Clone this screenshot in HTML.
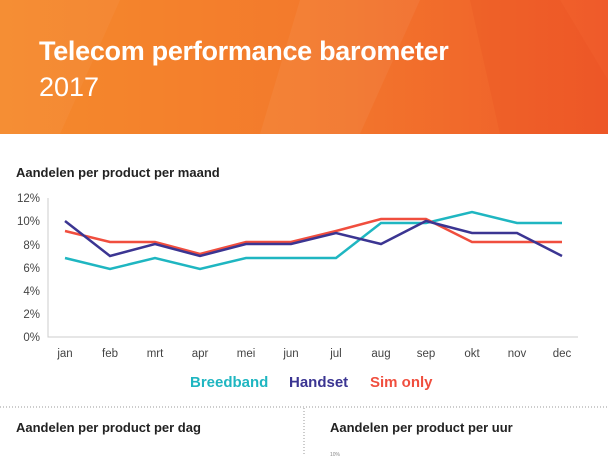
<!DOCTYPE html><html><head><style>
body{margin:0;width:608px;height:456px;overflow:hidden;background:#fff;font-family:"Liberation Sans",sans-serif}
.hd{position:absolute;left:0;top:0;width:608px;height:134px;background:linear-gradient(90deg,#f58a2c 0%,#f37a2c 50%,#ef5a2a 100%);overflow:hidden}
.hd h1{position:absolute;left:39px;top:36px;margin:0;color:#fff;font-size:27px;font-weight:bold;letter-spacing:-0.3px}
.hd h2{position:absolute;left:39px;top:72px;margin:0;color:#fff;font-size:27px;font-weight:normal}
.t{position:absolute;font-size:13px;font-weight:bold;color:#222}
</style></head><body>
<div class="hd"><svg width="608" height="134" style="position:absolute;left:0;top:0"><polygon points="300,0 420,0 360,134 260,134" fill="#fff" opacity="0.05"/><polygon points="470,0 560,0 608,80 608,134 500,134" fill="#e84a20" opacity="0.2"/><polygon points="0,0 120,0 60,134 0,134" fill="#fff" opacity="0.04"/></svg><h1>Telecom performance barometer</h1><h2>2017</h2></div>
<div class="t" style="left:16px;top:165px">Aandelen per product per maand</div>
<svg width="608" height="456" style="position:absolute;left:0;top:0" font-family="Liberation Sans" font-size="11.5" fill="#444">
<polyline points="48,198 48,337 578,337" fill="none" stroke="#ccc" stroke-width="1"/>
<g text-anchor="end"><text x="40" y="202">12%</text><text x="40" y="225">10%</text><text x="40" y="249">8%</text><text x="40" y="272">6%</text><text x="40" y="295">4%</text><text x="40" y="318">2%</text><text x="40" y="341">0%</text></g>
<g text-anchor="middle"><text x="65" y="357">jan</text><text x="110" y="357">feb</text><text x="155" y="357">mrt</text><text x="200" y="357">apr</text><text x="246" y="357">mei</text><text x="291" y="357">jun</text><text x="336" y="357">jul</text><text x="381" y="357">aug</text><text x="426" y="357">sep</text><text x="472" y="357">okt</text><text x="517" y="357">nov</text><text x="562" y="357">dec</text></g>
<polyline fill="none" stroke="#1fb6c1" stroke-width="2.5" points="65,258 110,269 155,258 200,269 246,258 291,258 336,258 381,223 426,223 472,212 517,223 562,223"/>
<polyline fill="none" stroke="#f04e3e" stroke-width="2.5" points="65,231 110,242 155,242 200,254 246,242 291,242 336,231 381,219 426,219 472,242 517,242 562,242"/>
<polyline fill="none" stroke="#3b3592" stroke-width="2.5" points="65,221 110,256 155,244 200,256 246,244 291,244 336,233 381,244 426,221 472,233 517,233 562,256"/>
<g font-size="15" font-weight="bold"><text x="190" y="387" fill="#1fb6c1">Breedband</text><text x="289" y="387" fill="#3b3592">Handset</text><text x="370" y="387" fill="#f04e3e">Sim only</text></g>
<line x1="0" y1="407" x2="608" y2="407" stroke="#999" stroke-dasharray="1,2"/>
<line x1="304" y1="408" x2="304" y2="456" stroke="#999" stroke-dasharray="1,2"/>
<text x="330" y="456" font-size="5" fill="#888">10%</text>
</svg>
<div class="t" style="left:16px;top:420px">Aandelen per product per dag</div>
<div class="t" style="left:330px;top:420px">Aandelen per product per uur</div>
</body></html>
